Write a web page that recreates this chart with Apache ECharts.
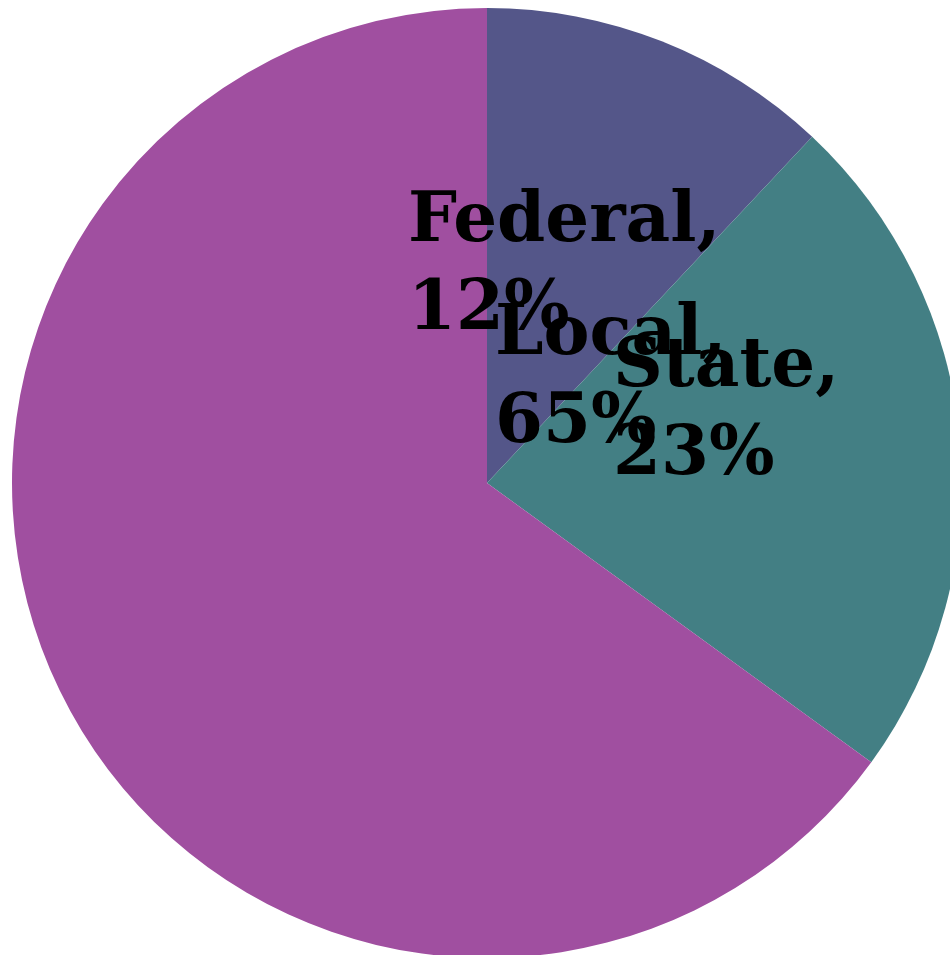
<!DOCTYPE html>
<html>
<head>
<meta charset="utf-8">
<script src="https://cdn.jsdelivr.net/npm/echarts@6/dist/echarts.min.js"></script>
<style>
html,body{margin:0;padding:0;background:#fff;}
#chart{width:950px;height:955px;}
</style>
</head>
<body>
<div id="chart"></div>
<script>
const categories = ['Federal', 'State', 'Local'];
const shares = [12, 23, 65];
const colors = ['#545689', '#437f84', '#a04fa0'];
// label anchor positions (top-left of each label block), in pixels
const labelPos = [[408, 179], [613, 324], [495, 292]];

const chart = echarts.init(document.getElementById('chart'), null, {renderer: 'canvas'});
chart.setOption({
  animation: false,
  backgroundColor: '#fff',
  series: [{
    type: 'pie',
    center: [487, 483],
    radius: [0, 475],
    startAngle: 90,
    clockwise: true,
    avoidLabelOverlap: false,
    emphasis: {disabled: true},
    label: {
      show: true,
      position: 'inside',
      formatter: '{b},\n{c}%',
      fontFamily: 'DejaVu Serif',
      fontWeight: 'bold',
      fontSize: 69,
      lineHeight: 88,
      color: '#000',
      align: 'left'
    },
    labelLine: {show: false},
    labelLayout: function (p) {
      const pos = labelPos[p.dataIndex];
      return {x: pos[0], y: pos[1], align: 'left', verticalAlign: 'top'};
    },
    data: categories.map((c, i) => ({name: c, value: shares[i], itemStyle: {color: colors[i]}}))
  }]
});
</script>
</body>
</html>
